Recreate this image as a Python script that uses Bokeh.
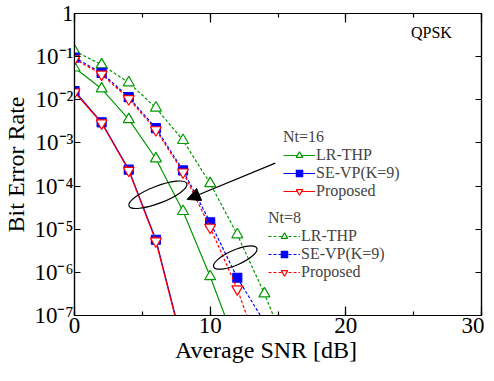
from bokeh.plotting import figure
from bokeh.models import (LinearAxis, LogAxis, FixedTicker, SingleIntervalTicker,
                          CustomJSTickFormatter, Legend, LegendItem, Arrow, NormalHead, Label)
from bokeh.embed import file_html
from bokeh.resources import INLINE

# ---------------- data ----------------
snr = [0, 2, 4, 6, 8, 10, 12, 14, 16]

# Nt = 16 (solid)
lr_thp_16 = [5.5e-2, 1.8e-2, 3.5e-3, 4.3e-4, 2.6e-5, 8.0e-7, 1.7e-8]
se_vp_16 = [1.6e-2, 3.0e-3, 2.4e-4, 5.7e-6, 2.0e-8]
prop_16 = [1.5e-2, 2.9e-3, 2.3e-4, 5.3e-6, 1.8e-8]

# Nt = 8 (dashed)
lr_thp_8 = [1.35e-1, 6.5e-2, 2.5e-2, 6.5e-3, 1.15e-3, 1.15e-4, 7.5e-6, 3.2e-7, 9.0e-9]
se_vp_8 = [9.5e-2, 4.2e-2, 1.15e-2, 2.2e-3, 2.3e-4, 1.45e-5, 7.5e-7, 7.0e-8]
prop_8 = [8.8e-2, 3.9e-2, 1.05e-2, 2.0e-3, 2.1e-4, 1.1e-5, 4.1e-7, 7.0e-9]

x_ticks = [0, 10, 20, 30]
y_ticks = [1e-7, 1e-6, 1e-5, 1e-4, 1e-3, 1e-2, 1e-1, 1]
y_tick_labels = ["10⁻⁷", "10⁻⁶", "10⁻⁵", "10⁻⁴", "10⁻³", "10⁻²", "10⁻¹", "1"]

FONT = "'Liberation Serif', 'Times New Roman', serif"
GREEN = "#009900"
BLUE = "#0000ff"
RED = "#ff0000"
DASH = "3 2"

p = figure(frame_width=407, frame_height=302, x_range=(0, 30), y_range=(1e-7, 1),
           y_axis_type="log", output_backend="svg", toolbar_location=None,
           min_border_left=68, min_border_right=3, min_border_top=13, min_border_bottom=40)
p.grid.visible = False
p.outline_line_color = "black"
p.outline_line_width = 1.2
p.background_fill_color = "white"

# axes
xt = SingleIntervalTicker(interval=10, num_minor_ticks=2)
yt = FixedTicker(ticks=y_ticks, minor_ticks=[])
yfmt = CustomJSTickFormatter(args=dict(tvals=y_ticks, tlabels=y_tick_labels), code="""
let best = 0, bd = 1e9;
for (let i = 0; i < tvals.length; i++) {
  const d = Math.abs(Math.log10(tvals[i]) - Math.log10(tick));
  if (d < bd) { bd = d; best = i; }
}
return tlabels[best];
""")
blank = CustomJSTickFormatter(code="return '';")

def style_axis(ax):
    ax.axis_line_color = "black"
    ax.axis_line_width = 1.2
    ax.major_tick_in = 9
    ax.major_tick_out = 0
    ax.minor_tick_in = 4
    ax.minor_tick_out = 0
    ax.major_tick_line_color = "black"
    ax.minor_tick_line_color = "black"
    ax.major_tick_line_width = 1.2
    ax.minor_tick_line_width = 1.2
    ax.major_label_text_font = FONT
    ax.major_label_text_color = "black"
    ax.axis_label_text_font = FONT
    ax.axis_label_text_font_style = "normal"
    ax.axis_label_text_color = "black"

xa = p.xaxis[0]
xa.ticker = xt
style_axis(xa)
xa.major_label_text_font_size = "23px"
xa.major_label_standoff = 2
# trailing no-break spaces shift the centred title slightly left, as in the original
xa.axis_label = "Average SNR [dB]\u00a0\u00a0\u00a0\u00a0"
xa.axis_label_text_font_size = "24px"
xa.axis_label_standoff = 1

ya = p.yaxis[0]
ya.ticker = yt
ya.formatter = yfmt
style_axis(ya)
ya.major_tick_in = 6
ya.major_label_text_font_size = "23px"
ya.major_label_standoff = 1
ya.axis_label = "Bit Error Rate"
ya.axis_label_text_font_size = "24px"
ya.axis_label_standoff = 2

top = LinearAxis(ticker=xt, formatter=blank, major_label_standoff=0,
                 major_label_text_font_size="1px")
style_axis(top)
p.add_layout(top, "above")
right = LogAxis(ticker=yt, formatter=blank, major_label_standoff=0,
                major_label_text_font_size="1px")
style_axis(right)
right.major_tick_in = 6
p.add_layout(right, "right")

# series
def series(yv, color, dash, marker, fill, size):
    xs = snr[:len(yv)]
    ln = p.line(xs, yv, line_color=color, line_width=1.2, line_dash=dash)
    sc = p.scatter(xs, yv, marker=marker, size=size, line_color=color,
                   fill_color=fill, line_width=1.2)
    return [ln, sc]

r_lr16 = series(lr_thp_16, GREEN, "solid", "triangle", "white", 11)
r_lr8 = series(lr_thp_8, GREEN, DASH, "triangle", "white", 11)
r_se16 = series(se_vp_16, BLUE, "solid", "square", BLUE, 9)
r_se8 = series(se_vp_8, BLUE, DASH, "square", BLUE, 9)
r_pr16 = series(prop_16, RED, "solid", "inverted_triangle", "white", 11)
r_pr8 = series(prop_8, RED, DASH, "inverted_triangle", "white", 11)

def make_legend(title, items, loc):
    lg = Legend(items=items, location=loc, title=title,
                title_text_font=FONT, title_text_font_size="16px", title_text_font_style="normal",
                label_text_font=FONT, label_text_font_size="16px",
                glyph_width=32, glyph_height=16, label_height=16, spacing=0,
                label_standoff=1, padding=0, margin=0, title_standoff=0,
                border_line_alpha=0, background_fill_alpha=0)
    p.add_layout(lg, "center")

make_legend("Nt=16", [LegendItem(label="LR-THP", renderers=r_lr16),
                      LegendItem(label="SE-VP(K=9)", renderers=r_se16),
                      LegendItem(label="Proposed", renderers=r_pr16)], (209, 115))
make_legend("Nt=8", [LegendItem(label="LR-THP", renderers=r_lr8),
                     LegendItem(label="SE-VP(K=9)", renderers=r_se8),
                     LegendItem(label="Proposed", renderers=r_pr8)], (194, 34))

# annotations
p.ellipse(x=[6.15], y=[6.3e-5], width=62, height=17, angle=0.37,
          width_units="screen", height_units="screen",
          fill_alpha=0, line_color="black", line_width=1.2)
p.ellipse(x=[11.85], y=[2.2e-6], width=47, height=15, angle=0.41,
          width_units="screen", height_units="screen",
          fill_alpha=0, line_color="black", line_width=1.2)
p.add_layout(Arrow(x_start=14.8, y_start=3.4e-4, x_end=8.3, y_end=4.9e-5,
                   line_color="black", line_width=1.2,
                   end=NormalHead(size=13, fill_color="black", line_color="black")))
p.add_layout(Label(x=24.8, y=0.36, text="QPSK", text_font=FONT, text_font_size="16px",
                   text_baseline="middle", text_align="left", text_color="black"))

open("out.html", "w").write(file_html(p, INLINE))
